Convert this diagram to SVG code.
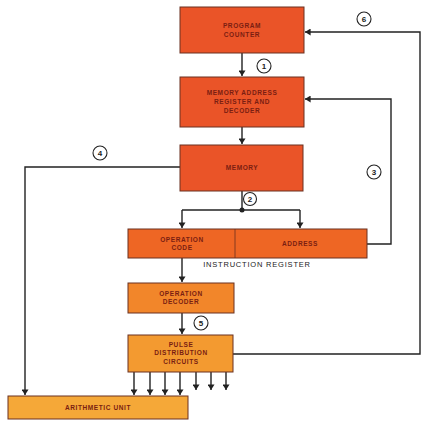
<svg xmlns="http://www.w3.org/2000/svg" width="429" height="426" viewBox="0 0 429 426">
<style>
.box{stroke:#6a3020;stroke-width:1}
.lbl{font-family:"Liberation Sans",Arial,sans-serif;font-size:6.5px;font-weight:bold;fill:#7a1e12;text-anchor:middle;letter-spacing:0.6px}
.ln{fill:none;stroke:#222;stroke-width:1.4}
.num{fill:#fff;stroke:#222;stroke-width:1.1}
.nt{font-family:"Liberation Sans",Arial,sans-serif;font-size:8px;font-weight:bold;fill:#222;text-anchor:middle}
.cap{font-family:"Liberation Sans",Arial,sans-serif;font-size:7.5px;fill:#222;text-anchor:middle;letter-spacing:0.8px}
</style>
<defs>
<marker id="ah" viewBox="0 0 8 10" refX="8" refY="5" markerWidth="7" markerHeight="7" markerUnits="userSpaceOnUse" orient="auto">
<path d="M0,0 L8,5 L0,10 z" fill="#222"/>
</marker>
</defs>
<rect width="429" height="426" fill="#fff"/>

<g id="connectors">
<path class="ln" d="M242,53 V76" marker-end="url(#ah)"/>
<path class="ln" d="M242,127 V144" marker-end="url(#ah)"/>
<path class="ln" d="M242,191 V210"/>
<path class="ln" d="M182,210 H300"/>
<circle cx="242" cy="210" r="2.5" fill="#222"/>
<path class="ln" d="M182,210 V228" marker-end="url(#ah)"/>
<path class="ln" d="M300,210 V228" marker-end="url(#ah)"/>
<path class="ln" d="M182,258 V282" marker-end="url(#ah)"/>
<path class="ln" d="M182,313 V334" marker-end="url(#ah)"/>
<path class="ln" d="M367,244 H391 V99 H305" marker-end="url(#ah)"/>
<path class="ln" d="M233,354 H420 V32 H305" marker-end="url(#ah)"/>
<path class="ln" d="M180,167 H25 V395" marker-end="url(#ah)"/>
<path class="ln" d="M134,372 V395" marker-end="url(#ah)"/>
<path class="ln" d="M150,372 V395" marker-end="url(#ah)"/>
<path class="ln" d="M165,372 V395" marker-end="url(#ah)"/>
<path class="ln" d="M180,372 V395" marker-end="url(#ah)"/>
<path class="ln" d="M196,372 V390" marker-end="url(#ah)"/>
<path class="ln" d="M211,372 V390" marker-end="url(#ah)"/>
<path class="ln" d="M226,372 V390" marker-end="url(#ah)"/>
</g>

<g id="n1"><circle class="num" cx="264" cy="66" r="7"/><text class="nt" x="264" y="69">1</text></g>
<g id="n2"><circle class="num" cx="250" cy="199" r="6.5"/><text class="nt" x="250" y="202">2</text></g>
<g id="n3"><circle class="num" cx="374" cy="172" r="7"/><text class="nt" x="374" y="175">3</text></g>
<g id="n4"><circle class="num" cx="100" cy="153" r="7"/><text class="nt" x="100" y="156">4</text></g>
<g id="n5"><circle class="num" cx="201" cy="323" r="7"/><text class="nt" x="201" y="326">5</text></g>
<g id="n6"><circle class="num" cx="364" cy="19" r="7"/><text class="nt" x="364" y="22">6</text></g>

<g id="program-counter">
<rect class="box" x="180" y="7" width="124" height="46" fill="#ea5428"/>
<text class="lbl" x="242" y="28">PROGRAM</text>
<text class="lbl" x="242" y="37">COUNTER</text>
</g>
<g id="mar">
<rect class="box" x="180" y="77" width="124" height="50" fill="#ea5428"/>
<text class="lbl" x="242" y="95">MEMORY ADDRESS</text>
<text class="lbl" x="242" y="104">REGISTER AND</text>
<text class="lbl" x="242" y="113">DECODER</text>
</g>
<g id="memory">
<rect class="box" x="180" y="145" width="123" height="46" fill="#ea5428"/>
<text class="lbl" x="242" y="170">MEMORY</text>
</g>
<g id="instruction-register">
<rect class="box" x="128" y="229" width="239" height="29" fill="#ee6624"/>
<line x1="235" y1="229" x2="235" y2="258" stroke="#6a3020" stroke-width="0.8"/>
<text class="lbl" x="182" y="242">OPERATION</text>
<text class="lbl" x="182" y="250">CODE</text>
<text class="lbl" x="300" y="246">ADDRESS</text>
<text class="cap" x="257" y="267">INSTRUCTION REGISTER</text>
</g>
<g id="operation-decoder">
<rect class="box" x="128" y="283" width="106" height="30" fill="#f2862a"/>
<text class="lbl" x="181" y="296">OPERATION</text>
<text class="lbl" x="181" y="304">DECODER</text>
</g>
<g id="pulse-distribution">
<rect class="box" x="128" y="335" width="105" height="37" fill="#f39a30"/>
<text class="lbl" x="181" y="347">PULSE</text>
<text class="lbl" x="181" y="355">DISTRIBUTION</text>
<text class="lbl" x="181" y="364">CIRCUITS</text>
</g>
<g id="arithmetic-unit">
<rect class="box" x="8" y="396" width="180" height="23" fill="#f5a838"/>
<text class="lbl" x="98" y="410">ARITHMETIC UNIT</text>
</g>
</svg>
